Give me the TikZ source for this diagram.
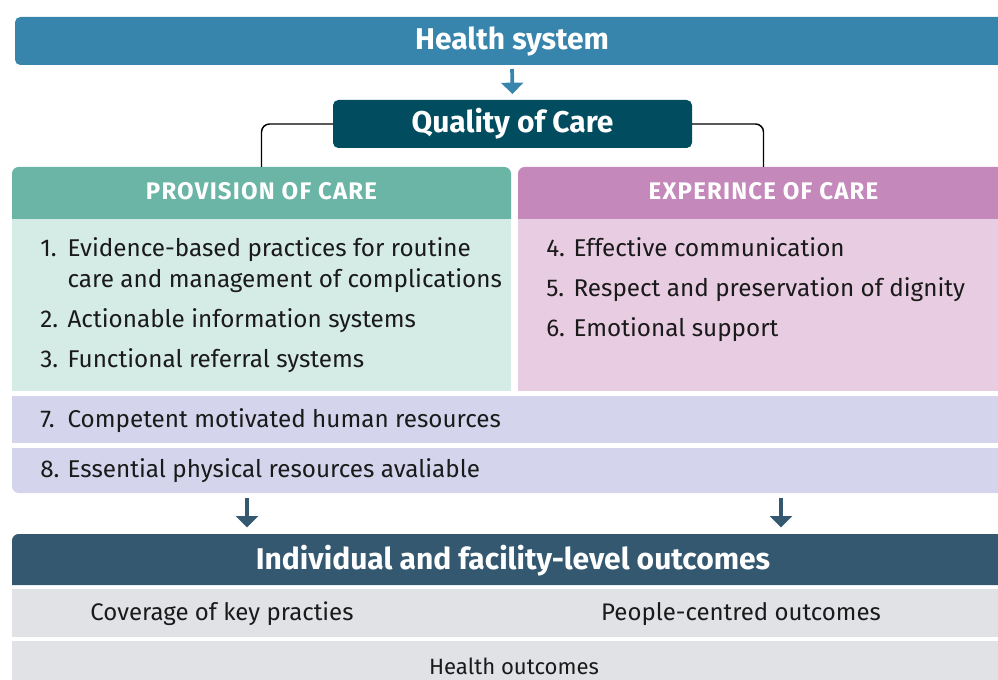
\documentclass[tikz,border=0pt]{standalone}
\usepackage{fontspec}
\setmainfont{Fira Sans}
\newfontfamily\headfont[LetterSpace=5]{Fira Sans Bold}
\usetikzlibrary{arrows.meta,backgrounds,fit}

\definecolor{hsblue}{HTML}{3784AD}
\definecolor{qocteal}{HTML}{024C60}
\definecolor{provhead}{HTML}{6AB5A5}
\definecolor{provbody}{HTML}{D5EBE5}
\definecolor{exphead}{HTML}{C588BA}
\definecolor{expbody}{HTML}{E8CCE2}
\definecolor{resfill}{HTML}{D4D5EC}
\definecolor{outhead}{HTML}{33586F}
\definecolor{outrow}{HTML}{E1E2E6}
\definecolor{bodytext}{HTML}{1A1A1A}

\newcommand{\num}[1]{\makebox[20.5pt][l]{#1}}

\tikzset{
  area/.style={inner sep=0pt, outer sep=0pt},
  bigtitle/.style={anchor=base, inner sep=0pt, text=white,
    font=\bfseries\fontsize{22.5}{26}\selectfont},
  colhead/.style={anchor=base, inner sep=0pt, text=white,
    font=\headfont\fontsize{18}{21}\selectfont},
  item/.style={anchor=base west, inner sep=0pt, text=bodytext,
    font=\fontsize{18.2}{22}\selectfont},
  outtext/.style={anchor=base, inner sep=0pt, text=bodytext,
    font=\fontsize{18}{21}\selectfont},
  flowarrow/.style={line width=2.8pt, -{Triangle[length=8.5pt, width=16.5pt]}},
  link/.style={line width=1.1pt, rounded corners=6pt},
}

\begin{document}
\begin{tikzpicture}[x=0.75pt, y=-0.75pt]
\useasboundingbox (0,0) rectangle (998,680);

% box areas
\node[area, fit={(15,17) (1009,65)}] (hs) {};
\node[area, fit={(333,100) (692,148)}] (qoc) {};
\node[area, fit={(12,167) (511,219)}] (provh) {};
\node[area, fit={(12,219) (511,391)}] (provb) {};
\node[area, fit={(518,167) (1009,219)}] (exph) {};
\node[area, fit={(518,219) (1009,391)}] (expb) {};
\node[area, fit={(12,396) (1009,443)}] (hr) {};
\node[area, fit={(12,448) (1009,493)}] (pr) {};
\node[area, fit={(12,534) (1009,585)}] (outh) {};
\node[area, fit={(12,589) (1009,637)}] (cov) {};
\node[area, fit={(12,641) (1009,700)}] (ho) {};

\begin{scope}[on background layer]
  \fill[hsblue, rounded corners=4pt] (hs.south west) rectangle (hs.north east);
  \fill[qocteal, rounded corners=4pt] (qoc.south west) rectangle (qoc.north east);
  \fill[provhead] (provh.south west) [rounded corners=5pt] -- (provh.north west)
    -- (provh.north east) [sharp corners] -- (provh.south east) -- cycle;
  \fill[provbody] (provb.south west) rectangle (provb.north east);
  \fill[exphead] (exph.south west) [rounded corners=5pt] -- (exph.north west)
    [sharp corners] -- (exph.north east) -- (exph.south east) -- cycle;
  \fill[expbody] (expb.south west) rectangle (expb.north east);
  \fill[resfill] (hr.south west) rectangle (hr.north east);
  \fill[resfill] (pr.north west) [rounded corners=5pt] -- (pr.south west)
    [sharp corners] -- (pr.south east) -- (pr.north east) -- cycle;
  \fill[outhead] (outh.south west) [rounded corners=5pt] -- (outh.north west)
    [sharp corners] -- (outh.north east) -- (outh.south east) -- cycle;
  \fill[outrow] (cov.south west) rectangle (cov.north east);
  \fill[outrow] (ho.south west) rectangle (ho.north east);
\end{scope}

% titles
\node[bigtitle] (hst) at (512,50) {Health system};
\node[bigtitle] (qoct) at (512.5,133) {Quality of Care};
\node[colhead] (provt) at (261.5,200) {PROVISION OF CARE};
\node[colhead] (expt) at (763.5,200) {EXPERINCE OF CARE};
\node[bigtitle] (outt) at (513,569) {Individual and facility-level outcomes};

% list items
\node[item] (i1) at (40,257) {\num{1.}Evidence-based practices for routine};
\node[item] (i1b) at (67.3,288) {care and management of complications};
\node[item] (i2) at (40,328) {\num{2.}Actionable information systems};
\node[item] (i3) at (40,368) {\num{3.}Functional referral systems};
\node[item] (i4) at (546,257) {\num{4.}Effective communication};
\node[item] (i5) at (546,297) {\num{5.}Respect and preservation of dignity};
\node[item] (i6) at (546,337) {\num{6.}Emotional support};
\node[item] (i7) at (40,427) {\num{7.}Competent motivated human resources};
\node[item] (i8) at (40,477) {\num{8.}Essential physical resources avaliable};

% outcomes
\node[outtext] (o1) at (222,620) {Coverage of key practies};
\node[outtext] (o2) at (741,620) {People-centred outcomes};
\node[outtext, font=\fontsize{16.6}{20}\selectfont] (o3) at (514,674) {Health outcomes};

% connectors
\draw[flowarrow, hsblue, shorten <=3pt, shorten >=4.5pt] (hs.south) -- (qoc.north);
\draw[link] (qoc.west) -| (provh.north);
\draw[link] (qoc.east) -| (exph.north);
\coordinate (ca) at (247,0);
\coordinate (cb) at (781,0);
\draw[flowarrow, outhead, shorten <=4pt, shorten >=5pt] (pr.south -| ca) -- (outh.north -| ca);
\draw[flowarrow, outhead, shorten <=4pt, shorten >=5pt] (pr.south -| cb) -- (outh.north -| cb);
\end{tikzpicture}
\end{document}
